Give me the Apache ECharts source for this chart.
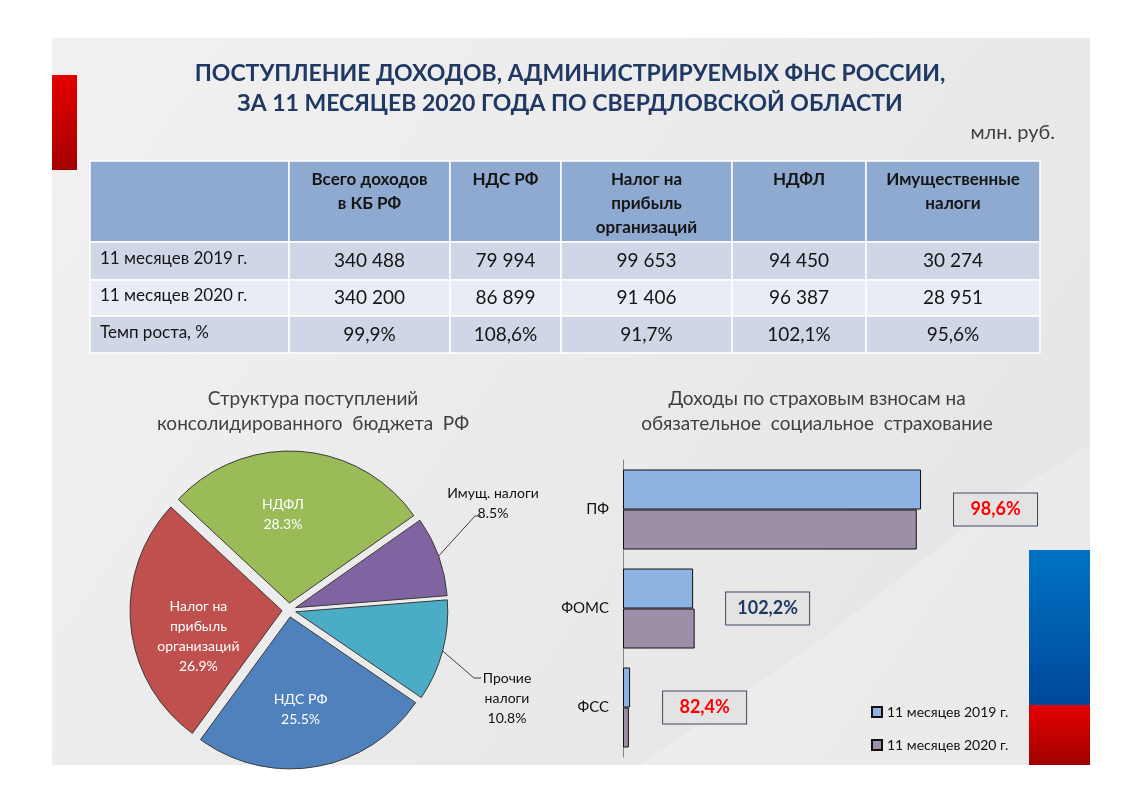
<!DOCTYPE html>
<html>
<head>
    <meta charset="utf-8">
    <title>Поступление доходов ФНС</title>
    <script src="https://cdn.jsdelivr.net/npm/echarts@6/dist/echarts.min.js"></script>
    <style>
        html, body { margin: 0; padding: 0; background: #fff; }
        #main { width: 1122px; height: 793px; }
    </style>
</head>
<body>
<div id="main"></div>
<script type="text/javascript">
    // --- данные таблицы ---
    var tableHeaders = ['', 'Всего доходов\nв КБ РФ', 'НДС РФ', 'Налог на\nприбыль\nорганизаций', 'НДФЛ', 'Имущественные\nналоги'];
    var rowLabels = ['11 месяцев 2019 г.', '11 месяцев 2020 г.', 'Темп роста, %'];
    var values2019 = [340488, 79994, 99653, 94450, 30274];
    var values2020 = [340200, 86899, 91406, 96387, 28951];
    var growthRate = [99.9, 108.6, 91.7, 102.1, 95.6];

    // --- структура поступлений (круговая) ---
    var pieNames = ['НДФЛ', 'Имущ. налоги', 'Прочие\nналоги', 'НДС РФ', 'Налог на\nприбыль\nорганизаций'];
    var pieShares = [28.3, 8.5, 10.8, 25.5, 26.9];
    var pieInside = [true, false, false, true, true];

    // --- страховые взносы ---
    var insCategories = ['ПФ', 'ФОМС', 'ФСС'];
    var insSeries = ['11 месяцев 2019 г.', '11 месяцев 2020 г.'];
    var ins2019 = [105000, 24700, 2500];
    var ins2020 = [103500, 25250, 2060];
    var insGrowth = [98.6, 102.2, 82.4];

    var FONT = 'Lato, "Noto Sans", sans-serif';

    // размещение подписей секторов
    var pieLabelShift = [[-12, -10], null, null, [-3, 15], [-5, 18]];
    var outsidePlace = {
        1: { x: 493, y: 503, elbow: [475, 516], end: [481, 516] },
        2: { x: 507, y: 698, elbow: [474, 678], end: [481, 678] }
    };

    function fmtNum(v) {
        return String(v).replace(/\B(?=(\d{3})+(?!\d))/g, ' ');
    }
    function fmtPct(v) {
        return v.toFixed(1).replace('.', ',') + '%';
    }

    var myChart = echarts.init(document.getElementById('main'));

    var PIE_C = [289, 610], PIE_R = 152, PIE_OFF = 7, PIE_START = 137;
    // точка на краю выдвинутого сектора по его средней линии
    function pieEdge(idx) {
        var total = 0, before = 0;
        pieShares.forEach(function (v, i) { total += v; if (i < idx) before += v; });
        var mid = (PIE_START - (before + pieShares[idx] / 2) / total * 360) * Math.PI / 180;
        var rr = PIE_R + PIE_OFF;
        return [PIE_C[0] + rr * Math.cos(mid), PIE_C[1] - rr * Math.sin(mid)];
    }

    // таблица
    var colX = [90, 289, 450, 561, 732, 866, 1040];
    var rowY = [161, 242, 280, 316, 353];
    var rowFill = ['#8eaad0', '#cfd7e6', '#e8ecf4', '#cfd7e6'];
    var tableEls = [];
    for (var r = 0; r < 4; r++) {
        for (var c = 0; c < 6; c++) {
            tableEls.push({
                type: 'rect',
                shape: { x: colX[c], y: rowY[r], width: colX[c + 1] - colX[c], height: rowY[r + 1] - rowY[r] },
                style: { fill: rowFill[r], stroke: '#ffffff', lineWidth: 1.5 }
            });
        }
    }
    tableHeaders.forEach(function (h, c) {
        if (!h) return;
        tableEls.push({
            type: 'text',
            x: (colX[c] + colX[c + 1]) / 2, y: 168,
            style: { text: h, font: 'bold 17px ' + FONT, fill: '#151515', align: 'center', verticalAlign: 'top', lineHeight: 24 }
        });
    });
    var bodyRows = [
        values2019.map(fmtNum),
        values2020.map(fmtNum),
        growthRate.map(fmtPct)
    ];
    bodyRows.forEach(function (row, i) {
        var cy = (rowY[i + 1] + rowY[i + 2]) / 2;
        tableEls.push({
            type: 'text', x: 100, y: cy - 2,
            style: { text: rowLabels[i], font: '17px ' + FONT, fill: '#151515', align: 'left', verticalAlign: 'middle' }
        });
        row.forEach(function (t, c) {
            tableEls.push({
                type: 'text', x: (colX[c + 1] + colX[c + 2]) / 2, y: cy,
                style: { text: t, font: '19px ' + FONT, fill: '#151515', align: 'center', verticalAlign: 'middle' }
            });
        });
    });

    var pieLabelFmt = function (p) {
        return p.name + '\n' + p.value.toFixed(1) + '%';
    };

    var option = {
        animation: false,
        textStyle: { fontFamily: FONT },
        graphic: {
            elements: [
                // фон слайда
                {
                    type: 'rect', z: -10,
                    shape: { x: 52, y: 38, width: 1038, height: 727 },
                    style: {
                        fill: new echarts.graphic.LinearGradient(0, 0, 1, 1, [
                            { offset: 0, color: '#f1f1f1' },
                            { offset: 1, color: '#e4e4e4' }
                        ])
                    }
                },
                {
                    type: 'polygon', z: -9,
                    shape: { points: [[640, 765], [820, 640], [1000, 500], [1090, 445], [1090, 765]] },
                    style: { fill: 'rgba(255,255,255,0.22)' }
                },
                // красная полоса слева
                {
                    type: 'rect', z: -5,
                    shape: { x: 52, y: 75, width: 25, height: 95 },
                    style: {
                        fill: new echarts.graphic.LinearGradient(0, 0, 0, 1, [
                            { offset: 0, color: '#e60000' },
                            { offset: 1, color: '#a50000' }
                        ])
                    }
                },
                // флаг справа
                {
                    type: 'rect', z: -5,
                    shape: { x: 1029, y: 550, width: 61, height: 155 },
                    style: {
                        fill: new echarts.graphic.LinearGradient(0, 0, 0, 1, [
                            { offset: 0, color: '#0073c4' },
                            { offset: 1, color: '#00489a' }
                        ])
                    }
                },
                {
                    type: 'rect', z: -5,
                    shape: { x: 1029, y: 705, width: 61, height: 60 },
                    style: {
                        fill: new echarts.graphic.LinearGradient(0, 0, 0, 1, [
                            { offset: 0, color: '#e60000' },
                            { offset: 1, color: '#a00000' }
                        ])
                    }
                },
                // заголовок
                {
                    type: 'text', x: 570, y: 89,
                    style: {
                        text: 'ПОСТУПЛЕНИЕ ДОХОДОВ, АДМИНИСТРИРУЕМЫХ ФНС РОССИИ,\nЗА 11 МЕСЯЦЕВ 2020 ГОДА ПО СВЕРДЛОВСКОЙ ОБЛАСТИ',
                        font: 'bold 23px ' + FONT, fill: '#1f3864', align: 'center', verticalAlign: 'middle', lineHeight: 30
                    }
                },
                {
                    type: 'text', x: 1055, y: 133,
                    style: { text: 'млн. руб.', font: '20px ' + FONT, fill: '#404040', align: 'right', verticalAlign: 'middle' }
                },
                {
                    type: 'group', children: tableEls
                },
                // подписи диаграмм
                {
                    type: 'text', x: 313, y: 411,
                    style: { text: 'Структура поступлений\nконсолидированного  бюджета  РФ', font: '19px ' + FONT, fill: '#404040', align: 'center', verticalAlign: 'middle', lineHeight: 25 }
                },
                {
                    type: 'text', x: 817, y: 411,
                    style: { text: 'Доходы по страховым взносам на\nобязательное  социальное  страхование', font: '19px ' + FONT, fill: '#404040', align: 'center', verticalAlign: 'middle', lineHeight: 25 }
                }
            ]
        },
        legend: {
            data: insSeries,
            orient: 'vertical',
            left: 866,
            top: 700,
            icon: 'rect',
            itemWidth: 10,
            itemHeight: 10,
            itemGap: 19,
            textStyle: { fontSize: 14, color: '#111', fontFamily: FONT }
        },
        grid: {
            left: 623,
            top: 460,
            width: 369,
            height: 297
        },
        xAxis: {
            type: 'value',
            min: 0,
            max: 130000,
            show: false
        },
        yAxis: {
            type: 'category',
            data: insCategories,
            inverse: true,
            axisLine: { lineStyle: { color: '#868686' } },
            axisTick: { length: 4, lineStyle: { color: '#868686' } },
            axisLabel: { fontSize: 15, color: '#111', margin: 14, fontFamily: FONT }
        },
        series: [
            {
                // сектора (выдвинутые) и внутренние подписи
                type: 'pie',
                center: PIE_C,
                radius: PIE_R,
                startAngle: PIE_START,
                clockwise: true,
                selectedMode: 'multiple',
                selectedOffset: PIE_OFF,
                emphasis: { disabled: true },
                itemStyle: { borderColor: '#3a3a3a', borderWidth: 1 },
                color: ['#9bbb59', '#8064a2', '#4bacc6', '#4f81bd', '#c0504d'],
                data: pieNames.map(function (n, i) {
                    return {
                        name: n,
                        value: pieShares[i],
                        selected: true,
                        label: { show: pieInside[i] },
                        labelLine: { show: false }
                    };
                }),
                label: {
                    position: 'inside',
                    color: '#ffffff',
                    fontSize: 14,
                    lineHeight: 20,
                    fontFamily: FONT,
                    formatter: pieLabelFmt
                },
                labelLayout: function (params) {
                    var s = pieLabelShift[params.dataIndex];
                    return s ? { dx: s[0], dy: s[1] } : {};
                }
            },
            {
                // внешние подписи с выносками
                type: 'pie',
                center: PIE_C,
                radius: PIE_R + PIE_OFF,
                startAngle: PIE_START,
                clockwise: true,
                silent: true,
                emphasis: { disabled: true },
                itemStyle: { color: 'rgba(0,0,0,0)', borderWidth: 0 },
                data: pieNames.map(function (n, i) {
                    return {
                        name: n,
                        value: pieShares[i],
                        label: { show: !pieInside[i] },
                        labelLine: { show: !pieInside[i] }
                    };
                }),
                label: {
                    position: 'outside',
                    color: '#111',
                    fontSize: 14,
                    lineHeight: 20,
                    fontFamily: FONT,
                    formatter: pieLabelFmt
                },
                labelLine: { length: 18, length2: 8, lineStyle: { color: '#111', width: 0.8 } },
                labelLayout: function (params) {
                    var o = outsidePlace[params.dataIndex];
                    if (!o) return {};
                    return {
                        x: o.x, y: o.y, align: 'center', verticalAlign: 'middle',
                        labelLinePoints: [pieEdge(params.dataIndex), o.elbow, o.end]
                    };
                }
            },
            {
                type: 'bar',
                name: insSeries[0],
                data: ins2019.map(function (v, i) {
                    return {
                        value: v,
                        label: {
                            formatter: '{' + (insGrowth[i] < 100 ? 'r' : 'n') + '|' + fmtPct(insGrowth[i]) + '}'
                        }
                    };
                }),
                barWidth: 40,
                barGap: '0%',
                itemStyle: { color: '#8db3e2', borderColor: '#111', borderWidth: 1 },
                label: {
                    show: true,
                    position: 'right',
                    distance: 33,
                    offset: [0, 20],
                    backgroundColor: '#e3e3e3',
                    borderColor: '#3f4a60',
                    borderWidth: 1,
                    padding: [7, 12],
                    rich: {
                        r: { color: '#ff0000', fontSize: 18, fontWeight: 'bold', width: 59, align: 'center', fontFamily: FONT },
                        n: { color: '#1f3864', fontSize: 18, fontWeight: 'bold', width: 59, align: 'center', fontFamily: FONT }
                    }
                },
                emphasis: { disabled: true }
            },
            {
                type: 'bar',
                name: insSeries[1],
                data: ins2020,
                barWidth: 40,
                barGap: '0%',
                itemStyle: { color: '#9e8fa9', borderColor: '#111', borderWidth: 1 },
                emphasis: { disabled: true }
            }
        ]
    };
    myChart.setOption(option);

    window.onresize = myChart.resize;
</script>
</body>
</html>
